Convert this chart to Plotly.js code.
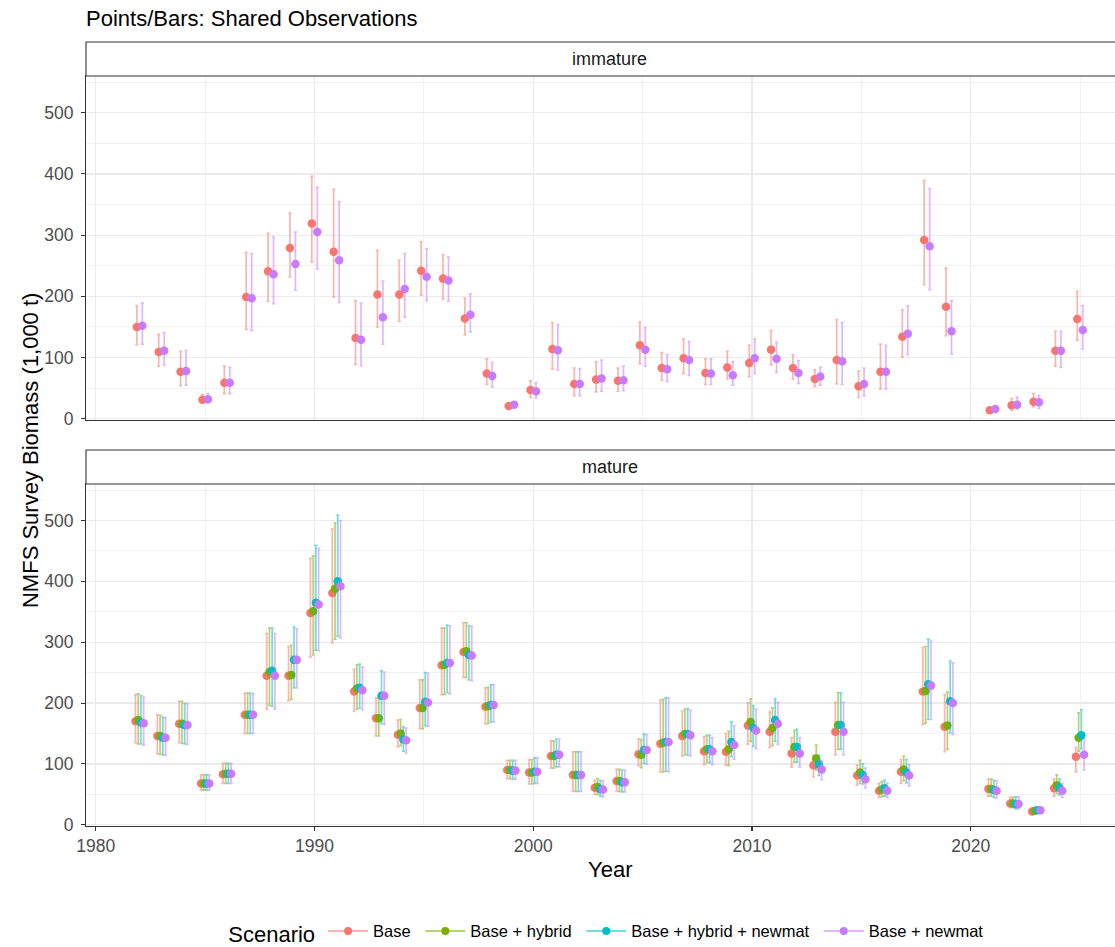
<!DOCTYPE html>
<html><head><meta charset="utf-8">
<script src="https://cdn.plot.ly/plotly-3.0.1.min.js"></script>
<style>html,body{margin:0;padding:0;background:#fff}#chart{width:1115px;height:947px}</style>
</head><body><div id="chart"></div>
<script>
const years = [1982,1983,1984,1985,1986,1987,1988,1989,1990,1991,1992,1993,1994,1995,1996,1997,1998,1999,2000,2001,2002,2003,2004,2005,2006,2007,2008,2009,2010,2011,2012,2013,2014,2015,2016,2017,2018,2019,2021,2022,2023,2024,2025];
const scenarios = ['Base','Base + hybrid','Base + hybrid + newmat','Base + newmat'];
const colors = ['#F8766D','#7CAE00','#00BFC4','#C77CFF'];
const barColors = ['rgba(248,118,109,0.55)','rgba(124,174,0,0.55)','rgba(0,191,196,0.55)','rgba(199,124,255,0.55)'];
const panels = ['immature','mature'];
const yTicks = [0,100,200,300,400,500];
const xTicks = [1980,1990,2000,2010,2020];

// immature panel: Base and Base + newmat
const immBase   = [150,109,77,31,59,199,241,279,319,273,132,203,203,242,229,164,74,21,47,114,57,64,62,120,83,99,75,84,91,113,83,65,96,53,77,134,292,183,14,22,28,111,163];
const immBaseHi = [185,138,110,40,86,272,303,336,396,375,193,275,259,289,268,197,98,24,62,157,83,93,83,158,108,130,98,110,120,144,105,80,162,78,122,178,389,246,17,33,41,143,208];
const immBaseLo = [121,86,54,26,41,146,192,232,256,199,89,150,159,202,196,137,56,18,35,81,38,44,45,90,63,74,56,65,69,88,65,53,57,35,49,101,219,136,12,14,20,86,128];
const immNew    = [152,111,78,32,59,197,236,253,305,259,129,166,212,232,226,170,70,23,45,112,57,66,63,113,81,96,74,71,99,98,75,69,94,57,77,139,282,143,16,23,27,111,145];
const immNewHi  = [189,141,112,41,84,270,297,305,378,355,189,225,270,278,264,204,92,26,59,154,82,96,86,149,105,126,98,93,130,125,95,84,157,83,120,184,376,193,19,35,38,143,185];
const immNewLo  = [122,88,55,26,41,144,188,210,245,190,87,122,166,193,192,142,52,20,34,80,38,45,46,86,61,71,56,55,74,76,58,55,56,38,49,105,211,106,13,16,17,84,114];

// mature panel: all four scenarios
const matBase   = [170,146,166,68,83,181,245,245,348,381,219,175,148,192,262,284,194,90,86,113,82,61,72,116,133,146,121,120,163,153,117,98,153,81,56,87,219,161,59,35,22,60,112];
const matBaseHi = [214,181,203,82,101,216,314,293,438,486,256,208,172,238,323,332,225,106,107,138,120,73,91,141,205,187,145,150,200,185,143,114,201,98,68,107,291,214,75,45,26,75,127];
const matBaseLo = [135,117,135,57,68,150,190,204,276,299,187,146,128,158,214,242,166,76,67,93,55,50,55,97,87,113,99,98,132,127,95,79,115,65,45,68,165,120,47,28,18,47,87];
const matHyb    = [172,146,166,68,84,181,251,246,351,388,224,175,150,192,263,285,195,90,86,113,82,62,72,115,135,149,124,124,169,159,128,109,164,86,58,91,220,163,59,35,23,65,143];
const matHybHi  = [215,180,203,82,101,217,323,295,442,496,263,208,173,238,323,332,226,106,107,138,120,76,91,140,206,190,147,154,207,192,155,131,217,106,71,113,293,218,75,45,27,82,184];
const matHybLo  = [133,116,134,57,68,150,196,206,279,305,190,146,130,158,214,242,166,76,67,93,55,50,55,94,87,115,102,97,137,130,103,90,124,68,46,72,167,124,47,28,19,51,121];
const matHybNew   = [168,143,164,68,84,181,253,271,365,400,225,212,140,202,266,279,197,89,87,115,82,59,70,123,136,149,124,136,159,172,128,99,164,82,60,86,231,203,57,34,24,61,147];
const matHybNewHi = [212,177,199,82,101,216,323,325,459,509,264,253,161,250,328,327,230,106,110,141,120,73,90,149,209,191,147,169,196,207,157,114,217,100,73,107,305,269,73,46,28,75,189];
const matHybNewLo = [133,115,133,57,68,150,195,225,287,310,192,166,121,163,217,238,169,75,68,95,55,47,54,101,88,115,102,112,129,137,103,81,124,67,47,69,173,151,45,26,20,49,125];
const matNew    = [167,143,164,68,84,181,245,271,362,392,221,212,139,201,266,278,197,89,87,115,82,58,70,123,136,147,121,131,155,166,117,91,153,75,56,81,229,200,56,34,24,56,115];
const matNewHi  = [210,176,199,82,101,216,314,322,454,500,259,251,159,249,327,326,230,106,110,141,120,72,90,148,208,188,143,163,190,201,143,106,201,93,68,99,302,266,72,46,28,68,140];
const matNewLo  = [131,114,132,57,68,150,190,225,286,307,189,165,118,162,215,237,169,75,68,95,55,46,54,100,87,113,99,108,125,132,95,74,115,61,45,64,173,148,44,26,20,45,90];

const FONT = 'Liberation Sans, Arial, Helvetica, sans-serif';

function mk(vals, hi, lo, idx, offset, xa, ya) {
  return {
    type: 'scatter', mode: 'markers', name: scenarios[idx],
    x: years.map(y => y + offset), y: vals, xaxis: xa, yaxis: ya,
    showlegend: false, hoverinfo: 'skip', cliponaxis: false,
    marker: {color: colors[idx], size: 8.5, line: {width: 0}},
    error_y: {type: 'data', symmetric: false,
      array: hi.map((h, i) => h - vals[i]),
      arrayminus: vals.map((v, i) => v - lo[i]),
      color: barColors[idx], thickness: 1.7, width: 1.5}
  };
}

const traces = [
  mk(immBase, immBaseHi, immBaseLo, 0, -0.125, 'x', 'y'),
  mk(immNew, immNewHi, immNewLo, 3, 0.125, 'x', 'y'),
  mk(matBase, matBaseHi, matBaseLo, 0, -0.1875, 'x2', 'y2'),
  mk(matHyb, matHybHi, matHybLo, 1, -0.0625, 'x2', 'y2'),
  mk(matHybNew, matHybNewHi, matHybNewLo, 2, 0.0625, 'x2', 'y2'),
  mk(matNew, matNewHi, matNewLo, 3, 0.1875, 'x2', 'y2')
];
// legend keys
scenarios.forEach((s, i) => {
  traces.push({type: 'scatter', mode: 'lines+markers', name: s + '\u00A0', x: [null], y: [null],
    xaxis: 'x2', yaxis: 'y2', showlegend: true, hoverinfo: 'skip',
    line: {color: barColors[i], width: 2}, marker: {color: colors[i], size: 8}});
});

const grid = '#EBEBEB';
function xAx(anchor, labels) {
  return {anchor: anchor, domain: [0, 1], range: [1979.55, 2026.6],
    tickvals: xTicks, ticktext: xTicks.map(String), showticklabels: labels,
    ticks: labels ? 'outside' : '', ticklen: 4, tickwidth: 1.1, tickcolor: '#333',
    tickfont: {size: 17.5, color: '#4D4D4D', family: FONT},
    showgrid: true, gridcolor: grid, gridwidth: 1.3,
    minor: {dtick: 5, tick0: 1980, showgrid: true, gridcolor: grid, gridwidth: 0.7, ticks: ''},
    showline: true, mirror: true, linecolor: '#333', linewidth: 1.1, zeroline: false};
}
function yAx(anchor, domain) {
  return {anchor: anchor, domain: domain, range: [-2, 560],
    tickvals: yTicks, ticktext: yTicks.map(String),
    ticks: 'outside', ticklen: 4, tickwidth: 1.1, tickcolor: '#333', ticklabelstandoff: 4,
    tickfont: {size: 17.5, color: '#4D4D4D', family: FONT},
    showgrid: true, gridcolor: grid, gridwidth: 1.3,
    minor: {dtick: 50, tick0: 0, showgrid: true, gridcolor: grid, gridwidth: 0.7, ticks: ''},
    showline: true, linecolor: '#333', linewidth: 1.1, zeroline: false};
}

const layout = {
  width: 1115, height: 947,
  margin: {l: 86, r: 0, t: 76, b: 121, autoexpand: false},
  paper_bgcolor: '#fff', plot_bgcolor: '#fff',
  font: {family: FONT, color: '#000'},
  title: {text: 'Points/Bars: Shared Observations', font: {size: 22, color: '#000', family: FONT},
    x: 0, xref: 'paper', xanchor: 'left', y: 1 - 18 / 947, yref: 'container', yanchor: 'middle'},
  xaxis: xAx('y', false),
  yaxis: yAx('x', [0.5413, 1]),
  xaxis2: xAx('y2', true),
  yaxis2: yAx('x2', [0, 0.456]),
  showlegend: true,
  legend: {orientation: 'h', x: 0.509, xanchor: 'center', y: -0.143, yanchor: 'middle',
    font: {size: 16.5, color: '#000', family: FONT},
    title: {text: 'Scenario', side: 'left', font: {size: 22, color: '#000', family: FONT}},
    itemwidth: 40, tracegroupgap: 0},
  shapes: [
    {type: 'rect', xref: 'paper', yref: 'paper', x0: 0, x1: 1.05, y0: 1.0, y1: 1.0453,
      fillcolor: '#fff', line: {color: '#333', width: 1.1}, layer: 'above'},
    {type: 'rect', xref: 'paper', yref: 'paper', x0: 0, x1: 1.05, y0: 0.456, y1: 0.5013,
      fillcolor: '#fff', line: {color: '#333', width: 1.1}, layer: 'above'}
  ],
  annotations: [
    {text: panels[0], xref: 'paper', yref: 'paper', x: 0.5092, y: 1.0227, xanchor: 'center', yanchor: 'middle',
      showarrow: false, font: {size: 18, color: '#1A1A1A', family: FONT}},
    {text: panels[1], xref: 'paper', yref: 'paper', x: 0.5092, y: 0.4787, xanchor: 'center', yanchor: 'middle',
      showarrow: false, font: {size: 18, color: '#1A1A1A', family: FONT}},
    {text: 'Year', xref: 'paper', yref: 'paper', x: 0.5092, y: -0.058, xanchor: 'center', yanchor: 'middle',
      showarrow: false, font: {size: 22, color: '#000', family: FONT}},
    {text: 'NMFS Survey Biomass (1,000 t)', xref: 'paper', yref: 'paper', x: -0.0544, y: 0.5, textangle: -90,
      xanchor: 'center', yanchor: 'middle', showarrow: false, font: {size: 22, color: '#000', family: FONT}}
  ]
};

Plotly.newPlot('chart', traces, layout, {displayModeBar: false, staticPlot: true});
</script>
</body></html>
